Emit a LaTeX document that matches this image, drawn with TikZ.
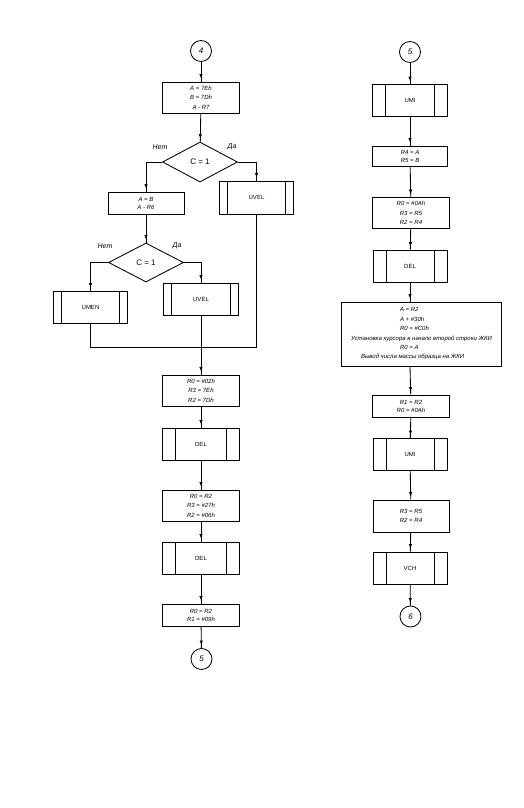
\documentclass[tikz,border=0pt]{standalone}
\usepackage{fontspec}
\setmainfont{Liberation Sans}
\usetikzlibrary{shapes.geometric,arrows.meta,decorations.markings}

\tikzset{
  blk/.style={draw,rectangle,minimum width=77pt,minimum height=31pt,inner sep=2pt,
    align=center,font=\fontsize{6}{9.5}\selectfont\itshape},
  sub/.style={draw,rectangle,minimum width=75pt,minimum height=32pt,font=\fontsize{6}{7}\selectfont,
    path picture={\draw ([xshift=#1]path picture bounding box.north west) -- ([xshift=#1]path picture bounding box.south west)
      ([xshift=-#1]path picture bounding box.north east) -- ([xshift=-#1]path picture bounding box.south east);}},
  sub/.default=13pt,
  cond/.style={draw,diamond,minimum width=75pt,minimum height=40pt,inner sep=0pt,font=\fontsize{8}{9}\selectfont},
  conn/.style={draw,circle,minimum size=21pt,inner sep=0pt,font=\fontsize{8}{9}\selectfont\itshape},
  lbl/.style={font=\fontsize{7}{8}\selectfont\itshape},
  flow/.style={postaction={decorate},
    decoration={markings,mark=at position -3pt with {\arrow{Latex[length=4.5pt,width=3.4pt]}}}},
}

\begin{document}
\begin{tikzpicture}[x=1pt,y=-1pt,line width=0.85pt]
  \useasboundingbox (0,0) rectangle (524,808);
  % left column
  \node[conn] (c4) at (201,51) {4};
  \node[blk] (b1) at (201,97.5) {A = 7Eh\\B = 7Dh\\A - R7};
  \node[cond] (d1) at (200,162) {C = 1};
  \node[lbl] at (160,147) {Нет};
  \node[lbl] at (232,147) {Да};
  \node[blk,minimum width=76pt,minimum height=22pt,font=\fontsize{6}{8}\selectfont\itshape] (b2) at (146,203) {A = B\\A - R6};
  \node[sub=8pt,minimum width=74pt,minimum height=33pt] (uv1) at (256.5,197.5) {UVEL};
  \node[cond,minimum height=39pt] (d2) at (146,262.5) {C = 1};
  \node[lbl] at (105,246) {Нет};
  \node[lbl] at (177,246) {Да};
  \node[sub=8pt,minimum width=74pt] (um) at (90.5,307) {UMEN};
  \node[sub=8pt] (uv2) at (201,299) {UVEL};
  \coordinate (m) at (201,347);
  \node[blk] (b3) at (201,390.5) {R0 = \#02h\\R3 = 7Eh\\R2 = 7Dh};
  \node[sub,minimum width=77pt] (del1) at (201,444) {DEL};
  \node[blk] (b4) at (201,505.5) {R0 = R2\\R3 = \#27h\\R2 = \#06h};
  \node[sub,minimum width=77pt] (del2) at (201,558) {DEL};
  \node[blk,minimum height=22pt,font=\fontsize{6}{8}\selectfont\itshape] (b5) at (201,615) {R0 = R2\\R1 = \#09h};
  \node[conn] (c5) at (201.5,659) {5};

  \draw[flow] (c4) -- (b1);
  \draw[flow] (b1) -- (d1);
  \draw[flow] (d1.west) -| (b2.north);
  \draw[flow] (d1.east) -| (uv1.north);
  \draw[flow] (b2) -- (d2);
  \draw[flow] (d2.west) -| (um.north);
  \draw[flow] (d2.east) -| (uv2.north);
  \draw (um.south) |- (uv1.south |- m) -- (uv1.south);
  \draw (uv2.south) -- (uv2.south |- m);
  \draw[flow] (m) -- (b3);
  \draw[flow] (b3) -- (del1);
  \draw[flow] (del1) -- (b4);
  \draw[flow] (b4) -- (del2);
  \draw[flow] (del2) -- (b5);
  \draw[flow] (b5) -- (c5);

  % right column
  \node[conn] (c5r) at (410,52) {5};
  \node[sub] (umi1) at (410,100.5) {UMI};
  \node[blk,minimum width=75pt,minimum height=20pt,font=\fontsize{6}{8}\selectfont\itshape] (b6) at (410,156) {R4 = A\\R5 = B};
  \node[blk] (b7) at (411,213) {R0 = \#0Ah\\R3 = R5\\R2 = R4};
  \node[sub,minimum width=74pt] (del3) at (410,266) {DEL};
  \node[blk,minimum width=160pt,minimum height=64pt,align=left,inner sep=4pt,
    font=\fontsize{6}{9.4}\selectfont\itshape] (big) at (421.5,334)
    {\hspace*{49pt}A = R2\\\hspace*{49pt}A + \#30h\\\hspace*{49pt}R0 = \#C0h\\
     Установка курсора в начало второй строки ЖКИ\\\hspace*{49pt}R0 = A\\
     \hspace*{10pt}Вывод числа массы образца на ЖКИ};
  \node[blk,minimum height=22pt,font=\fontsize{6}{8}\selectfont\itshape] (b8) at (411,406) {R1 = R2\\R0 = \#0Ah};
  \node[sub,minimum width=74pt] (umi2) at (410,454.5) {UMI};
  \node[blk,minimum width=76pt,minimum height=32pt,font=\fontsize{6}{9}\selectfont\itshape] (b9) at (411,516) {R3 = R5\\R2 = R4};
  \node[sub,minimum width=74pt] (vch) at (410,568) {VCH};
  \node[conn] (c6) at (410.5,616.5) {6};

  \draw[flow] (c5r) -- (umi1);
  \draw[flow] (umi1) -- (b6);
  \draw[flow] (b6) -- (b7);
  \draw[flow] (b7) -- (del3);
  \draw[flow] (del3.south) -- (del3.south |- big.north);
  \draw[flow] (del3.south |- big.south) -- (b8);
  \draw[flow] (b8) -- (umi2);
  \draw[flow] (umi2) -- (b9);
  \draw[flow] (b9) -- (vch);
  \draw[flow] (vch) -- (c6);
\end{tikzpicture}
\end{document}
